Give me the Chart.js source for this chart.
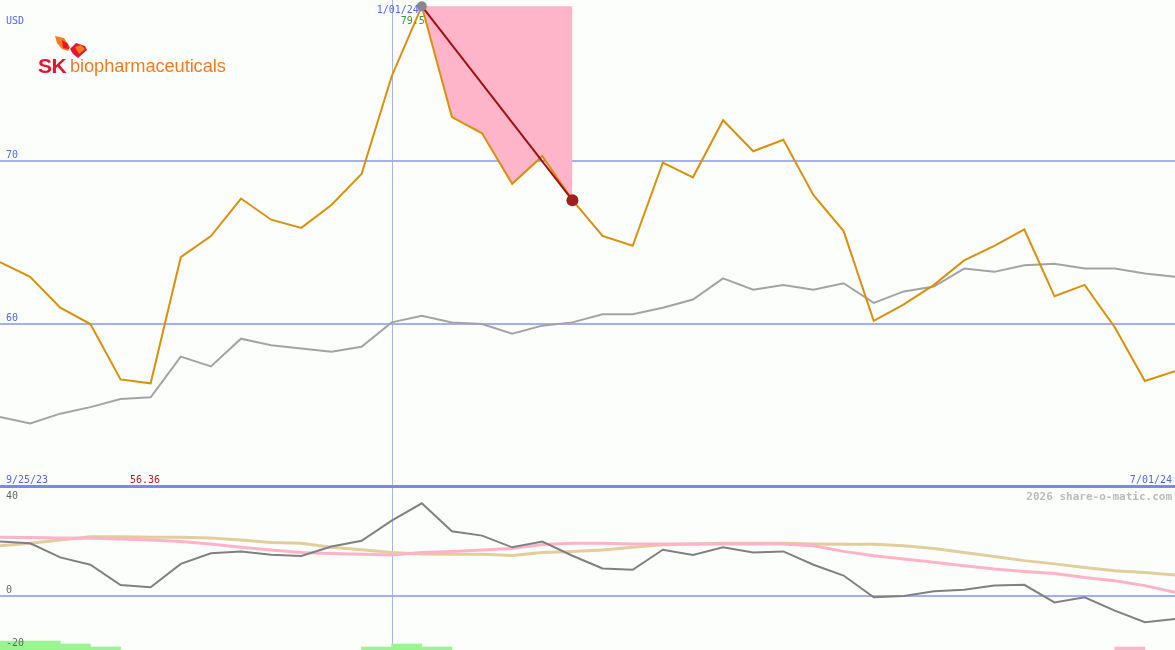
<!DOCTYPE html>
<html lang="en">
<head>
<meta charset="UTF-8">
<title>SK biopharmaceuticals - share-o-matic</title>
<script src="https://cdn.jsdelivr.net/npm/chart.js"></script>
<style>
  html, body { margin: 0; padding: 0; background: #fcfefc; }
  #wrap { position: relative; width: 1175px; height: 650px; overflow: hidden; background: #fcfefc; }
  #mainChart { position: absolute; left: 0; top: 0; }
  #lowerChart { position: absolute; left: 0; top: 487px; }
  #divider { position: absolute; left: 0; top: 485px; width: 1175px; height: 3px; background: #7b88ee; }
  #logo { position: absolute; left: 38px; top: 35px; width: 200px; height: 44px; }
  #logo .sk { position: absolute; left: 0; top: 19px; font: bold 21px "Liberation Sans", Arial, sans-serif; color: #e8132f; letter-spacing: -0.5px; }
  #logo .bio { position: absolute; left: 32px; top: 20px; font: 18.3px "Liberation Sans", Arial, sans-serif; color: #f47b20; letter-spacing: -0.1px; }
  #logo svg { position: absolute; left: 16px; top: 0; }
</style>
</head>
<body>
<div id="wrap">
  <canvas id="mainChart" width="1175" height="487"></canvas>
  <canvas id="lowerChart" width="1175" height="163"></canvas>
  <div id="divider"></div>
  <div id="logo">
    <svg width="34" height="24" viewBox="0 0 34 24">
      <polygon points="1,1 10,3 16,12 14,16 8,14 3,8" fill="#f47b20"/>
      <polygon points="8,5 14,9 15,14 9,13" fill="#e8132f"/>
      <polygon points="16,14 22,8 31,11 33,15 24,23 19,19" fill="#e8132f"/>
      <polygon points="21,12 27,10 31,14 25,19" fill="#f47b20"/>
    </svg>
    <span class="sk">SK</span>
    <span class="bio">biopharmaceuticals</span>
  </div>
</div>

<script>
// semaines (lundi) de 9/25/23 a 6/24/24
const weeks = ['9/25/23','10/02/23','10/09/23','10/16/23','10/23/23','10/30/23','11/06/23','11/13/23',
  '11/20/23','11/27/23','12/04/23','12/11/23','12/18/23','12/25/23','1/01/24','1/08/24','1/15/24',
  '1/22/24','1/29/24','2/05/24','2/12/24','2/19/24','2/26/24','3/04/24','3/11/24','3/18/24','3/25/24',
  '4/01/24','4/08/24','4/15/24','4/22/24','4/29/24','5/06/24','5/13/24','5/20/24','5/27/24','6/03/24',
  '6/10/24','6/17/24','6/24/24'];

// cours (USD)
const price = [63.8, 62.9, 61.0, 60.0, 56.6, 56.36, 64.1, 65.4, 67.7, 66.4, 65.9, 67.3, 69.2, 75.2,
  79.5, 72.7, 71.7, 68.6, 70.3, 67.6, 65.4, 64.8, 69.9, 69.0, 72.5, 70.6, 71.3, 67.9, 65.7, 60.2,
  61.2, 62.4, 63.9, 64.8, 65.8, 61.7, 62.4, 59.8, 56.5, 57.1];

// moyenne mobile
const avg = [54.3, 53.9, 54.5, 54.9, 55.4, 55.5, 58.0, 57.4, 59.1, 58.7, 58.5, 58.3, 58.6, 60.1,
  60.5, 60.1, 60.0, 59.4, 59.9, 60.1, 60.6, 60.6, 61.0, 61.5, 62.8, 62.1, 62.4, 62.1, 62.5, 61.3,
  62.0, 62.3, 63.4, 63.2, 63.6, 63.7, 63.4, 63.4, 63.1, 62.9];

// indicateurs panneau bas
const momentum = [19.9, 19.3, 14.1, 11.4, 3.9, 3.1, 11.7, 15.6, 16.3, 15.1, 14.6, 18.1, 20.2, 27.6,
  34.0, 23.7, 22.1, 17.8, 19.9, 14.7, 10.0, 9.5, 16.9, 15.0, 17.8, 15.9, 16.3, 11.4, 7.4, -0.6,
  -0.1, 1.6, 2.2, 3.7, 4.0, -2.5, -0.6, -5.5, -9.8, -8.6];
const slowPink = [21.5, 21.4, 21.2, 21.1, 20.9, 20.5, 19.9, 19.0, 17.8, 16.8, 15.9, 15.5, 15.2, 15.0,
  15.9, 16.3, 16.8, 17.4, 18.8, 19.3, 19.3, 19.0, 19.0, 19.0, 19.0, 19.0, 19.0, 18.4, 16.3, 14.7,
  13.5, 12.3, 11.0, 9.8, 8.9, 8.2, 6.7, 5.5, 3.7, 1.2];
const slowTan = [18.4, 19.3, 20.5, 21.7, 21.7, 21.5, 21.5, 21.2, 20.5, 19.6, 19.3, 17.8, 16.9, 15.9,
  15.3, 15.2, 15.2, 14.8, 15.9, 16.3, 16.8, 17.8, 18.7, 19.0, 19.3, 19.3, 19.3, 19.0, 18.9, 18.9,
  18.4, 17.4, 15.9, 14.4, 12.9, 11.7, 10.4, 9.2, 8.5, 7.6];
// barres (hausse / baisse) en bas du panneau
const upBars = [-16.7, -16.7, -17.8, -18.9, null, null, null, null, null, null, null, null, -18.9, -17.8,
  -18.9, null, null, null, null, null, null, null, null, null, null, null, null, null, null, null,
  null, null, null, null, null, null, null, null, null, null];
const downBars = [null, null, null, null, null, null, null, null, null, null, null, null, null, null,
  null, null, null, null, null, null, null, null, null, null, null, null, null, null, null, null,
  null, null, null, null, null, null, null, -18.9, null, null];

const mainTicks = [60, 70];
const lowerTicks = [40, 0, -20];
const peakIdx = 14, troughIdx = 19, yearLineIdx = 13;

const MONO = '"DejaVu Sans Mono", "Liberation Mono", monospace';

// ligne verticale (debut d'annee)
const vLine = {
  id: 'vLine',
  beforeDatasetsDraw(chart) {
    const x = chart.scales.x.getPixelForValue(yearLineIdx);
    const c = chart.ctx;
    c.save();
    c.strokeStyle = '#a8b4f4';
    c.lineWidth = 1;
    c.beginPath();
    c.moveTo(Math.round(x) + 0.5, 0);
    c.lineTo(Math.round(x) + 0.5, chart.height);
    c.stroke();
    c.restore();
  }
};

const mainDeco = {
  id: 'mainDeco',
  beforeDatasetsDraw(chart) {
    const c = chart.ctx, y = chart.scales.y;
    c.save();
    c.strokeStyle = '#a4b0f2';
    c.lineWidth = 2;
    mainTicks.forEach(v => {
      const py = Math.round(y.getPixelForValue(v));
      c.beginPath(); c.moveTo(0, py); c.lineTo(chart.width, py); c.stroke();
    });
    c.restore();
  },
  afterDraw(chart) {
    const c = chart.ctx, y = chart.scales.y, x = chart.scales.x;
    c.save();
    c.font = '10px ' + MONO;
    c.textBaseline = 'alphabetic';
    c.fillStyle = '#5566ee';
    c.textAlign = 'left';
    c.fillText('USD', 6, 24);
    mainTicks.forEach(v => c.fillText(String(v), 6, y.getPixelForValue(v) - 3));
    c.fillText(weeks[0], 6, 483);
    c.textAlign = 'right';
    c.fillText('7/01/24', 1172, 483);
    const px = x.getPixelForValue(peakIdx);
    c.fillText(weeks[peakIdx], px - 3, 13);
    c.fillStyle = '#3a9a3a';
    c.fillText(price[peakIdx].toFixed(1), px + 3, 24);
    c.fillStyle = '#aa2222';
    c.textAlign = 'left';
    c.fillText(Math.min(...price).toFixed(2), 130, 483);
    c.restore();
  }
};

const lowerDeco = {
  id: 'lowerDeco',
  beforeDatasetsDraw(chart) {
    const c = chart.ctx, y = chart.scales.y;
    c.save();
    c.strokeStyle = '#a4b0f2';
    c.lineWidth = 2;
    const py = Math.round(y.getPixelForValue(0));
    c.beginPath(); c.moveTo(0, py); c.lineTo(chart.width, py); c.stroke();
    c.restore();
  },
  afterDraw(chart) {
    const c = chart.ctx, y = chart.scales.y;
    c.save();
    c.font = '10px ' + MONO;
    c.fillStyle = '#666666';
    c.textAlign = 'left';
    c.fillText(String(lowerTicks[0]), 6, 12);
    c.fillText(String(lowerTicks[1]), 6, y.getPixelForValue(0) - 3);
    c.fillText(String(lowerTicks[2]), 6, 159);
    c.font = 'bold 11px ' + MONO;
    c.fillStyle = '#bbbbbb';
    c.textAlign = 'right';
    c.fillText('2026 share-o-matic.com', 1172, 13);
    c.restore();
  }
};

try {
  const zone = price.map((v, i) => (i >= peakIdx && i <= troughIdx) ? price[peakIdx] : null);
  const trend = price.map((v, i) => (i === peakIdx || i === troughIdx) ? v : null);

  new Chart(document.getElementById('mainChart'), {
    type: 'line',
    data: {
      labels: weeks,
      datasets: [
        { data: price, borderColor: '#d9900a', borderWidth: 2, pointRadius: 0, fill: false, tension: 0, order: 1 },
        { data: avg, borderColor: '#a3a3a3', borderWidth: 2, pointRadius: 0, fill: false, tension: 0, order: 2 },
        { data: zone, borderWidth: 0, borderColor: 'rgba(0,0,0,0)', pointRadius: 0,
          backgroundColor: '#ffb5c9', fill: '-2', order: 3 },
        { data: trend, spanGaps: true, borderColor: '#a01010', borderWidth: 2, fill: false, order: 0,
          pointRadius: ctx => ctx.dataIndex === peakIdx ? 5 : (ctx.dataIndex === troughIdx ? 6 : 0),
          pointBackgroundColor: ctx => ctx.dataIndex === peakIdx ? '#888888' : '#a02020',
          pointBorderWidth: 0 }
      ]
    },
    options: {
      responsive: false,
      animation: false,
      devicePixelRatio: 1,
      layout: { padding: 0 },
      plugins: { legend: { display: false }, tooltip: { enabled: false } },
      scales: {
        x: { display: false, offset: false },
        y: { display: false, min: 50, max: 79.88 }
      }
    },
    plugins: [vLine, mainDeco]
  });

  const pts = arr => arr.map((v, i) => ({ x: i, y: v }));
  const barPts = arr => arr.map((v, i) => ({ x: i + 0.5, y: v }));

  new Chart(document.getElementById('lowerChart'), {
    data: {
      datasets: [
        { type: 'bar', data: barPts(upBars), base: -20, backgroundColor: '#99f590', grouped: false,
          barPercentage: 1, categoryPercentage: 1, order: 5 },
        { type: 'bar', data: barPts(downBars), base: -20, backgroundColor: '#ffb5c9', grouped: false,
          barPercentage: 1, categoryPercentage: 1, order: 5 },
        { type: 'line', data: pts(slowTan), borderColor: '#e2cd9c', borderWidth: 3, pointRadius: 0, order: 3 },
        { type: 'line', data: pts(slowPink), borderColor: '#ffb2c8', borderWidth: 3, pointRadius: 0, order: 2 },
        { type: 'line', data: pts(momentum), borderColor: '#808080', borderWidth: 2, pointRadius: 0, order: 1 }
      ]
    },
    options: {
      responsive: false,
      animation: false,
      devicePixelRatio: 1,
      layout: { padding: 0 },
      plugins: { legend: { display: false }, tooltip: { enabled: false } },
      scales: {
        x: { type: 'linear', display: false, min: 0, max: weeks.length - 1, offset: false },
        y: { display: false, min: -20, max: 40 }
      }
    },
    plugins: [vLine, lowerDeco]
  });
} catch (e) {
  console.error(e);
}
</script>
</body>
</html>
